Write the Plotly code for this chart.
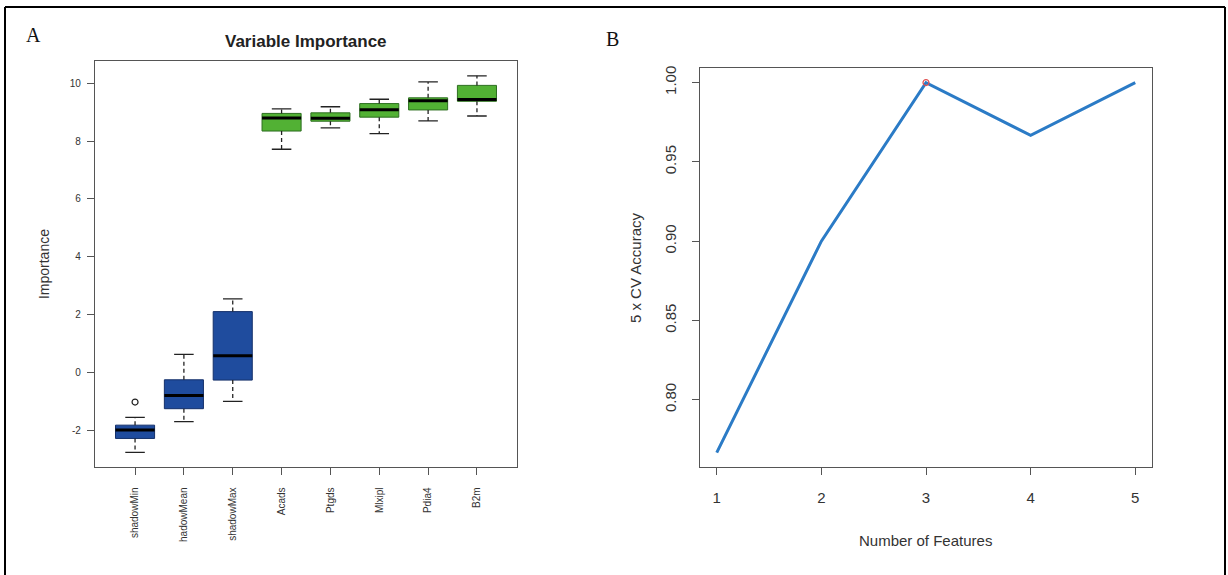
import plotly.graph_objects as go

# ---------------- data ----------------
features = ["shadowMin", "hadowMean", "shadowMax", "Acads", "Ptgds", "Mlxipl", "Pdia4", "B2m"]
lower_w = [-2.77, -1.71, -1.01, 7.72, 8.46, 8.26, 8.70, 8.87]
q1 = [-2.29, -1.26, -0.27, 8.35, 8.69, 8.83, 9.08, 9.38]
median = [-2.00, -0.80, 0.57, 8.80, 8.79, 9.09, 9.40, 9.44]
q3 = [-1.83, -0.26, 2.10, 8.96, 8.98, 9.30, 9.50, 9.93]
upper_w = [-1.56, 0.62, 2.54, 9.12, 9.19, 9.45, 10.05, 10.26]
groups = ["shadow", "shadow", "shadow", "confirmed", "confirmed", "confirmed", "confirmed", "confirmed"]
outlier_feature = ["shadowMin"]
outlier_value = [-1.03]
importance_ticks = [-2, 0, 2, 4, 6, 8, 10]

n_features = [1, 2, 3, 4, 5]
cv_accuracy = [0.7667, 0.9000, 1.0000, 0.9667, 1.0000]
accuracy_ticks = [0.80, 0.85, 0.90, 0.95, 1.00]

# ---------------- style ----------------
W, H = 1228, 575
BOX_HALF = 0.4
CAP_HALF = 0.2
FILL = {"shadow": "#1f4c9e", "confirmed": "#52b134"}
EDGE = {"shadow": "#14306a", "confirmed": "#2c6e1f"}
SANS = "Liberation Sans, Arial, sans-serif"
SERIF = "Liberation Serif, Times New Roman, serif"
AX = "#555555"

fig = go.Figure()

pos = list(range(1, len(features) + 1))

for g in ["shadow", "confirmed"]:
    bx, by = [], []
    for i, p in enumerate(pos):
        if groups[i] != g:
            continue
        bx += [p - BOX_HALF, p + BOX_HALF, p + BOX_HALF, p - BOX_HALF, p - BOX_HALF, None]
        by += [q1[i], q1[i], q3[i], q3[i], q1[i], None]
    fig.add_trace(go.Scatter(x=bx, y=by, mode="lines", fill="toself", fillcolor=FILL[g],
                             line=dict(color=EDGE[g], width=1), xaxis="x", yaxis="y",
                             hoverinfo="skip", showlegend=False))

# whiskers (dashed)
wx, wy = [], []
for i, p in enumerate(pos):
    wx += [p, p, None, p, p, None]
    wy += [q3[i], upper_w[i], None, q1[i], lower_w[i], None]
fig.add_trace(go.Scatter(x=wx, y=wy, mode="lines", line=dict(color="#222222", width=1.3, dash="4px,3px"),
                         xaxis="x", yaxis="y", hoverinfo="skip", showlegend=False))
# caps
cx, cy = [], []
for i, p in enumerate(pos):
    cx += [p - CAP_HALF, p + CAP_HALF, None, p - CAP_HALF, p + CAP_HALF, None]
    cy += [upper_w[i], upper_w[i], None, lower_w[i], lower_w[i], None]
fig.add_trace(go.Scatter(x=cx, y=cy, mode="lines", line=dict(color="#222222", width=1.3),
                         xaxis="x", yaxis="y", hoverinfo="skip", showlegend=False))
# medians
mx, my = [], []
for i, p in enumerate(pos):
    mx += [p - BOX_HALF, p + BOX_HALF, None]
    my += [median[i], median[i], None]
fig.add_trace(go.Scatter(x=mx, y=my, mode="lines", line=dict(color="#000000", width=3),
                         xaxis="x", yaxis="y", hoverinfo="skip", showlegend=False))
# outliers
ox = [pos[features.index(f)] for f in outlier_feature]
fig.add_trace(go.Scatter(x=ox, y=outlier_value, mode="markers",
                         marker=dict(symbol="circle-open", size=6, color="#222222", line=dict(width=1.2)),
                         xaxis="x", yaxis="y", hoverinfo="skip", showlegend=False))

# ---------------- right panel ----------------
fig.add_trace(go.Scatter(x=n_features, y=cv_accuracy, mode="lines",
                         line=dict(color="#2b7bc6", width=3), xaxis="x2", yaxis="y2", showlegend=False))
imax = cv_accuracy.index(max(cv_accuracy))
fig.add_trace(go.Scatter(x=[n_features[imax]], y=[cv_accuracy[imax]], mode="markers",
                         marker=dict(symbol="circle-open", size=6, color="#e05050", line=dict(width=1.2)),
                         xaxis="x2", yaxis="y2", showlegend=False))

# axis ranges, R-style 4% padding
ymin, ymax = min(lower_w + outlier_value), max(upper_w)
pad = (ymax - ymin) * 0.04
xpad = len(features) * 0.04
y2min, y2max = min(cv_accuracy), max(cv_accuracy)
pad2 = (y2max - y2min) * 0.04
x2pad = (max(n_features) - min(n_features)) * 0.04

axis_common = dict(showline=True, mirror=True, linecolor=AX, linewidth=1.2, ticks="outside",
                   ticklen=7, tickcolor=AX, showgrid=False, zeroline=False)

fig.update_layout(
    width=W, height=H, margin=dict(l=0, r=0, t=0, b=0),
    paper_bgcolor="white", plot_bgcolor="white", showlegend=False,
    xaxis=dict(domain=[95 / W, 517 / W], range=[0.5 - xpad, len(features) + 0.5 + xpad],
               tickvals=pos, ticktext=features, tickangle=-90, ticklabelstandoff=8,
               tickfont=dict(family=SANS, size=10, color="#333"), anchor="y", **axis_common),
    yaxis=dict(domain=[1 - 467 / H, 1 - 59 / H], range=[ymin - pad, ymax + pad],
               tickvals=importance_ticks, ticktext=[str(t) for t in importance_ticks],
               ticklabelstandoff=4,
               tickfont=dict(family=SANS, size=10, color="#333"), anchor="x", **axis_common),
    xaxis2=dict(domain=[700 / W, 1152 / W], range=[min(n_features) - x2pad, max(n_features) + x2pad],
                tickvals=n_features, ticklabelstandoff=10,
                tickfont=dict(family=SANS, size=15, color="#333"),
                anchor="y2", **axis_common),
    yaxis2=dict(domain=[1 - 467 / H, 1 - 66 / H], range=[y2min - pad2, y2max + pad2],
                tickvals=accuracy_ticks, ticktext=[f"{t:.2f}" for t in accuracy_ticks],
                tickangle=-90, ticklabelstandoff=10,
                tickfont=dict(family=SANS, size=15, color="#333"), anchor="x2", **axis_common),
)

annotations = [
    dict(text="A", x=33 / W, y=1 - 33 / H, font=dict(family=SERIF, size=20, color="#111")),
    dict(text="B", x=612 / W, y=1 - 37 / H, font=dict(family=SERIF, size=20, color="#111")),
    dict(text="<b>Variable Importance</b>", x=306 / W, y=1 - 40 / H, font=dict(family=SANS, size=17, color="#222")),
    dict(text="Importance", x=44 / W, y=1 - 263 / H, textangle=-90, font=dict(family=SANS, size=14, color="#333")),
    dict(text="5 x CV Accuracy", x=635 / W, y=1 - 267 / H, textangle=-90, font=dict(family=SANS, size=15, color="#333")),
    dict(text="Number of Features", x=925 / W, y=1 - 540 / H, font=dict(family=SANS, size=15, color="#333")),
]
for a in annotations:
    a.update(xref="paper", yref="paper", showarrow=False, xanchor="center", yanchor="middle")
fig.update_layout(annotations=annotations)

# outer frame (bottom edge is cut off in the original)
frame = dict(type="line", xref="paper", yref="paper", line=dict(color="#000", width=2))
fig.add_shape(x0=5 / W, x1=5 / W, y0=0, y1=1 - 5 / H, **frame)
fig.add_shape(x0=5 / W, x1=1225 / W, y0=1 - 5 / H, y1=1 - 5 / H, **frame)
fig.add_shape(x0=1225 / W, x1=1225 / W, y0=0, y1=1 - 5 / H, **frame)

fig.write_html("out.html", config={"displayModeBar": False})

# remove the browser's default body margin so the figure fills the window exactly
with open("out.html", "r", encoding="utf-8") as f:
    html = f.read()
html = html.replace("<head>", "<head><style>html,body{margin:0;padding:0;overflow:hidden;}</style>", 1)
with open("out.html", "w", encoding="utf-8") as f:
    f.write(html)
